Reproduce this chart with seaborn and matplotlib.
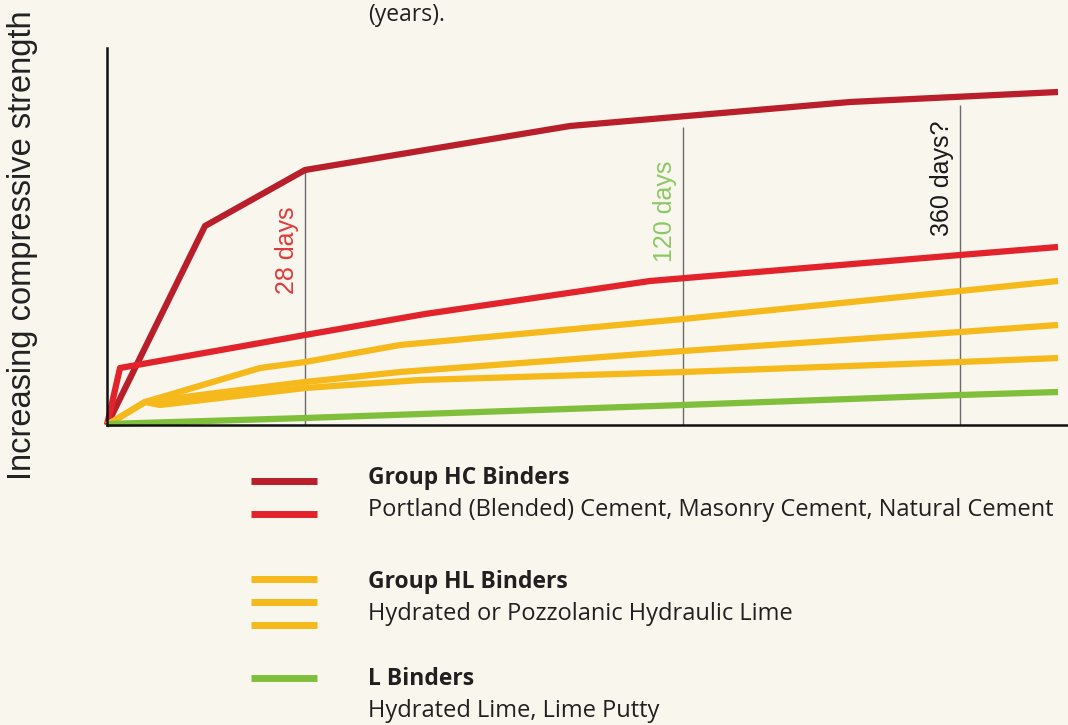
import matplotlib
matplotlib.use("Agg")
import matplotlib.pyplot as plt
import numpy as np
import pandas as pd
import seaborn as sns

# curve data (arbitrary time units vs. arbitrary strength units)
hc_dark_x = [0, 98, 198, 463, 743, 951]
hc_dark_y = [0, 199, 255, 299, 323, 333]
hc_red_x = [0, 13, 198, 318, 543, 853, 951]
hc_red_y = [0, 57, 90, 111, 144, 170, 178]
hl_1_x = [0, 38, 153, 198, 293, 576, 853, 951]
hl_1_y = [0, 23, 57, 63, 80, 106, 134, 144]
hl_2_x = [0, 38, 133, 198, 293, 576, 853, 951]
hl_2_y = [0, 23, 35, 43, 53, 74, 93, 100]
hl_3_x = [38, 53, 198, 313, 576, 853, 951]
hl_3_y = [23, 20, 37, 45, 53, 63, 67]
l_x = [0, 198, 576, 853, 951]
l_y = [1, 7, 20, 30, 33]

marker_x = [198, 576, 853]
marker_top = [255, 298, 320]
marker_labels = ["28 days", "120 days", "360 days?"]
marker_colors = ["#e0393a", "#8cc866", "#1a1a1a"]

series_names = ["HC dark", "HC red", "HL 1", "HL 2", "HL 3", "L"]
series_colors = ["#b91f2b", "#e3232b", "#f6b91c", "#f6b91c", "#f6b91c", "#80bf3c"]

legend_titles = ["Group HC Binders", "Group HL Binders", "L Binders"]
legend_texts = ["Portland (Blended) Cement, Masonry Cement, Natural Cement",
                "Hydrated or Pozzolanic Hydraulic Lime",
                "Hydrated Lime, Lime Putty"]

bg = "#f9f6ee"

frames = []
for name, xs, ys in zip(series_names,
                        [hc_dark_x, hc_red_x, hl_1_x, hl_2_x, hl_3_x, l_x],
                        [hc_dark_y, hc_red_y, hl_1_y, hl_2_y, hl_3_y, l_y]):
    frames.append(pd.DataFrame({"t": xs, "s": ys, "binder": name}))
df = pd.concat(frames, ignore_index=True)

sns.set_style("white")
plt.rcParams["font.family"] = ["Liberation Sans", "DejaVu Sans"]

W, H = 1068, 725
fig = plt.figure(figsize=(W / 100, H / 100), dpi=100, facecolor=bg)
ax = fig.add_axes([107 / W, (H - 425) / H, (W - 107) / W, (425 - 48) / H])
ax.set_facecolor(bg)

# vertical time markers
ax.vlines(marker_x, 0, marker_top, color="#6b6b6b", lw=1.0, zorder=1)

sns.lineplot(data=df, x="t", y="s", hue="binder", palette=dict(zip(series_names, series_colors)),
             estimator=None, sort=False, lw=4.5, legend=False, ax=ax, zorder=2)
for ln in ax.lines:
    ln.set_clip_on(False)
    ln.set_solid_capstyle("butt")

ax.set_xlim(0, 961)
ax.set_ylim(0, 377)
ax.set_xticks([])
ax.set_yticks([])
ax.set_xlabel("")
ax.set_ylabel("")
for side in ["top", "right"]:
    ax.spines[side].set_visible(False)
for side in ["left", "bottom"]:
    ax.spines[side].set_color("#111111")
    ax.spines[side].set_linewidth(1.8)

label_dx = [-18, -18, -18]
label_y = [250, 211, 178]
for x, y, txt, c, dx in zip(marker_x, label_y, marker_labels, marker_colors, label_dx):
    fig.text((107 + x + dx) / W, 1 - y / H, txt, rotation=90, color=c, fontsize=18,
             ha="center", va="center")

fig.text(23 / W, 1 - 245 / H, "Increasing compressive strength", rotation=90,
         fontsize=23.5, color="#222222", ha="center", va="center")
fig.text(368 / W, 1 - 15 / H, "(years).", fontsize=16.5, color="#231f20",
         family=["Open Sans", "DejaVu Sans"], ha="left", va="center")

# legend
lax = fig.add_axes([0, 0, 1, 1], facecolor="none")
lax.set_xlim(0, W)
lax.set_ylim(H, 0)
lax.axis("off")
swatch_y = [481, 514, 579, 602, 625, 678]
for y, c in zip(swatch_y, series_colors):
    lax.plot([251, 317], [y, y], color=c, lw=5, solid_capstyle="butt")

title_y = [478, 582, 679]
text_y = [510, 614, 711]
for t, ty, s, sy in zip(legend_titles, title_y, legend_texts, text_y):
    lax.text(368, ty, t, fontsize=16.5, fontweight="bold", color="#231f20",
             family=["Open Sans", "DejaVu Sans"], va="center", ha="left")
    lax.text(368, sy, s, fontsize=17, color="#231f20",
             family=["Open Sans", "DejaVu Sans"], va="center", ha="left")

fig.savefig("out.png", dpi=100, facecolor=bg)
